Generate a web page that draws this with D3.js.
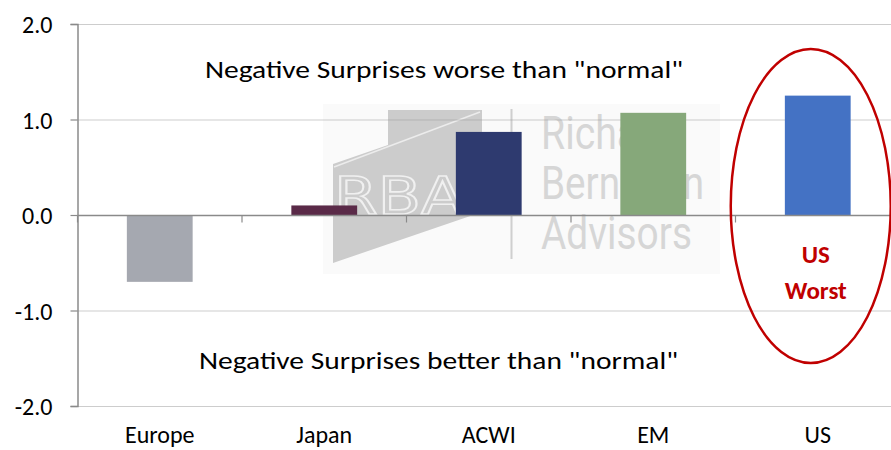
<!DOCTYPE html>
<html>
<head>
<meta charset="utf-8">
<script src="https://cdn.jsdelivr.net/npm/d3@7"></script>
<style>
  body { margin: 0; background: #fff; }
  svg { display: block; font-family: Calibri, Carlito, Lato, sans-serif; }
</style>
</head>
<body>
<svg width="891" height="450"></svg>
<script>
// data
var regions = ["Europe", "Japan", "ACWI", "EM", "US"];
var surprise = [-0.70, 0.10, 0.87, 1.07, 1.25];
var barColors = ["#a5a8b0", "#5a2a48", "#2e3a6f", "#86a87a", "#4472c4"];
var yTicks = [-2, -1, 0, 1, 2];
var notes = ['Negative Surprises worse than "normal"', 'Negative Surprises better than "normal"'];
var calloutLines = ["US", "Worst"];

var svg = d3.select("svg"),
    plotLeft = 77.5,
    plotRight = 900,
    plotTop = 24,
    plotBottom = 406;

var x = d3.scaleBand()
    .domain(regions)
    .range([plotLeft, plotRight])
    .paddingInner(0.6)
    .paddingOuter(0.3);

var y = d3.scaleLinear()
    .domain([-2, 2])
    .range([plotBottom, plotTop]);

var step = x.step();

// watermark (sits behind everything)
var wm = svg.append("g");
wm.append("rect")
    .attr("x", 323).attr("y", 104).attr("width", 397).attr("height", 170)
    .attr("fill", "#fafafa");
wm.append("polygon")
    .attr("points", "388,110 482,110 482,212 333,263 333,164 388,145")
    .attr("fill", "#cccccc");
wm.append("line")
    .attr("x1", 334).attr("y1", 167).attr("x2", 480).attr("y2", 112)
    .attr("stroke", "#ececec").attr("stroke-width", 1.5);
wm.append("text")
    .attr("x", 334).attr("y", 214)
    .attr("font-family", "'DejaVu Sans Condensed', sans-serif")
    .attr("font-size", 52)
    .attr("fill", "none").attr("stroke", "#f0f0f0").attr("stroke-width", 1.6)
    .attr("textLength", 130).attr("lengthAdjust", "spacingAndGlyphs")
    .text("RBA");
wm.append("line")
    .attr("x1", 511.5).attr("y1", 109).attr("x2", 511.5).attr("y2", 259)
    .attr("stroke", "#cfcfcf").attr("stroke-width", 2);
[["Richard", 132], ["Bernstein", 163], ["Advisors", 151]].forEach(function (t, i) {
    wm.append("text")
        .attr("x", 541).attr("y", 149 + i * 50)
        .attr("font-family", "Roboto, sans-serif")
        .attr("font-size", 46)
        .attr("fill", "#d6d6d6")
        .attr("textLength", t[1]).attr("lengthAdjust", "spacingAndGlyphs")
        .text(t[0]);
});

// gridlines
svg.append("g")
    .selectAll("line")
    .data(yTicks.filter(function (d) { return d !== 0; }))
    .enter().append("line")
    .attr("x1", plotLeft).attr("x2", 891)
    .attr("y1", function (d) { return y(d) + 0.5; })
    .attr("y2", function (d) { return y(d) + 0.5; })
    .attr("stroke", "#9a9a9a")
    .attr("stroke-width", 1)
    .attr("stroke-dasharray", "1,1");

// bars
svg.append("g")
    .selectAll("rect")
    .data(regions)
    .enter().append("rect")
    .attr("x", function (d) { return x(d); })
    .attr("width", x.bandwidth())
    .attr("y", function (d, i) { return y(Math.max(0, surprise[i])); })
    .attr("height", function (d, i) { return Math.abs(y(surprise[i]) - y(0)); })
    .attr("fill", function (d, i) { return barColors[i]; });

// y axis (plain hyphen for negatives, like the original)
var yAxis = svg.append("g")
    .attr("transform", "translate(" + plotLeft + ",0)")
    .call(d3.axisLeft(y).tickValues(yTicks).tickSize(7)
        .tickFormat(function (d) { return d.toFixed(1); }));
yAxis.select(".domain").attr("stroke", "#8a8a8a").attr("stroke-width", 1.5);
yAxis.selectAll(".tick line").attr("stroke", "#8a8a8a").attr("stroke-width", 1.2);
yAxis.selectAll(".tick text")
    .attr("x", -25).attr("dy", "0.36em")
    .attr("font-family", "Calibri, Carlito, Lato, sans-serif")
    .attr("font-size", 24).attr("fill", "#000");

// zero baseline with category ticks
var zero = svg.append("g").attr("transform", "translate(0," + (y(0) + 0.5) + ")");
zero.append("line")
    .attr("x1", plotLeft).attr("x2", 891)
    .attr("stroke", "#8a8a8a").attr("stroke-width", 1.5);
zero.selectAll(".ctick")
    .data(regions)
    .enter().append("line")
    .attr("class", "ctick")
    .attr("x1", function (d) { return x(d) - step * 0.3; })
    .attr("x2", function (d) { return x(d) - step * 0.3; })
    .attr("y1", 0).attr("y2", 7)
    .attr("stroke", "#8a8a8a").attr("stroke-width", 1.2);

// category labels
svg.append("g")
    .selectAll("text")
    .data(regions)
    .enter().append("text")
    .attr("x", function (d) { return x(d) + x.bandwidth() / 2; })
    .attr("y", 443)
    .attr("text-anchor", "middle")
    .attr("font-size", 24)
    .attr("fill", "#000")
    .text(function (d) { return d; });

// annotations
svg.append("text")
    .attr("x", 205).attr("y", 78)
    .attr("font-size", 24)
    .attr("textLength", 478).attr("lengthAdjust", "spacingAndGlyphs")
    .text(notes[0]);
svg.append("text")
    .attr("x", 199).attr("y", 369)
    .attr("font-size", 24)
    .attr("textLength", 479).attr("lengthAdjust", "spacingAndGlyphs")
    .text(notes[1]);

// US callout
var usX = x("US") + x.bandwidth() / 2;
svg.append("ellipse")
    .attr("cx", usX - 7).attr("cy", 206)
    .attr("rx", 80).attr("ry", 157)
    .attr("fill", "none")
    .attr("stroke", "#c00000")
    .attr("stroke-width", 2.5);
svg.append("g")
    .selectAll("text")
    .data(calloutLines)
    .enter().append("text")
    .attr("x", usX - 2)
    .attr("y", function (d, i) { return 263 + i * 36; })
    .attr("text-anchor", "middle")
    .attr("font-size", 25)
    .attr("font-weight", "bold")
    .attr("fill", "#c00000")
    .text(function (d) { return d; });
</script>
</body>
</html>
